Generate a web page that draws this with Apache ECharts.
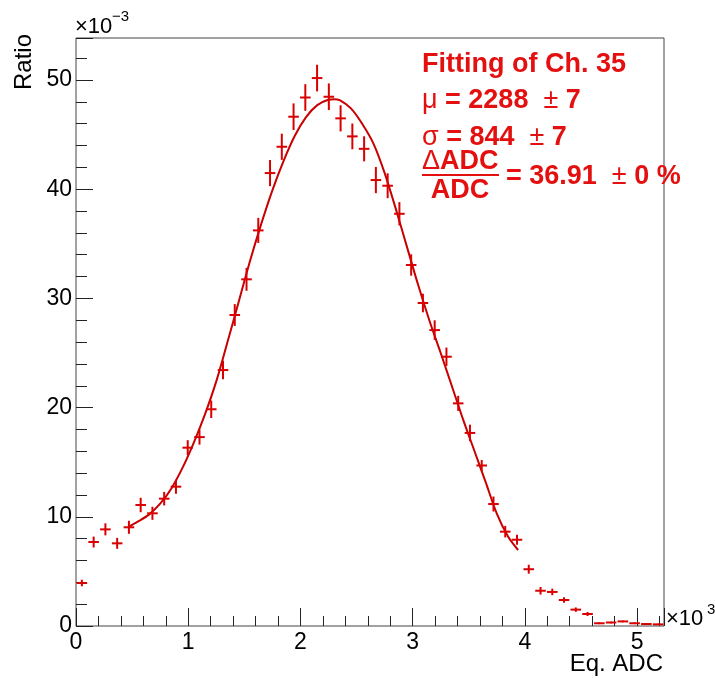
<!DOCTYPE html>
<html><head><meta charset="utf-8">
<script src="https://cdn.jsdelivr.net/npm/echarts@6/dist/echarts.min.js"></script>
<style>html,body{margin:0;padding:0;background:#fff}#c{width:715px;height:678px}</style>
</head><body><div id="c"></div>
<script>
// Histogram definition (Eq. ADC)
const binLow = 0, binHigh = 5240, nBins = 50;
// Ratio per bin (x 1e-3)
const ratio = [3.94, 7.69, 8.85, 7.57, 9.04, 11.08, 10.32, 11.66, 12.76, 16.33,
  17.30, 19.85, 23.44, 28.48, 31.75, 36.23, 41.48, 43.89, 46.64, 48.40,
  50.18, 48.47, 46.49, 44.84, 43.70, 40.84, 40.32, 37.75, 33.06, 29.58,
  27.10, 24.66, 20.39, 17.68, 14.70, 11.17, 8.64, 7.90, 5.20, 3.23,
  3.12, 2.38, 1.50, 1.10, 0.25, 0.32, 0.42, 0.25, 0.18, 0.15];
// Statistical error per bin (x 1e-3)
const ratioErr = [0.30, 0.50, 0.55, 0.50, 0.60, 0.66, 0.60, 0.62, 0.65, 0.69,
  0.69, 0.80, 0.85, 1.00, 1.05, 1.15, 1.20, 1.20, 1.22, 1.22,
  1.22, 1.22, 1.20, 1.18, 1.15, 1.20, 1.14, 1.07, 0.98, 0.85,
  0.90, 0.84, 0.69, 0.76, 0.50, 0.69, 0.53, 0.46, 0.41, 0.35,
  0.30, 0.25, 0.20, 0.18, 0.08, 0.08, 0.08, 0.08, 0.06, 0.06];
// Fit curve
const fitX = [470, 550, 650, 750, 850, 950, 1050, 1150, 1250, 1350, 1450, 1550, 1650, 1750, 1850,
  1950, 2050, 2150, 2250, 2300, 2350, 2450, 2550, 2650, 2750, 2850, 2950, 3050, 3150, 3250,
  3350, 3450, 3550, 3650, 3750, 3850, 3940];
const fitY = [9.09, 9.55, 10.2, 11.2, 12.6, 14.5, 16.8, 19.4, 22.4, 26.0, 29.7, 33.4, 36.8, 39.9, 42.6,
  44.9, 46.6, 47.7, 48.2, 48.25, 48.15, 47.4, 46.0, 44.2, 41.5, 38.2, 34.7, 31.2, 27.96, 25.0,
  21.96, 18.9, 16.05, 13.2, 10.3, 8.2, 6.96];
// Tick labels
const xTickValues = [0, 1000, 2000, 3000, 4000, 5000];
const xTickLabels = ['0', '1', '2', '3', '4', '5'];
const yTickValues = [0, 10, 20, 30, 40, 50];
const yTickLabels = ['0', '10', '20', '30', '40', '50'];
const yMax = 53.85;

const binW = (binHigh - binLow) / nBins;
const centers = ratio.map((_, i) => binLow + (i + 0.5) * binW);
const RED = '#d80000';
const TXT = '#e41010';
const FONT = 'Liberation Sans';

function labelFor(values, labels) {
  return function (v) {
    for (let i = 0; i < values.length; i++) if (Math.abs(values[i] - v) < 1e-6) return labels[i];
    return '';
  };
}

const chart = echarts.init(document.getElementById('c'), null, {renderer: 'canvas'});
const axisLabelStyle = {color: '#000', fontFamily: FONT, fontSize: 23};
const richR = {fill: TXT, fontFamily: FONT, fontSize: 27, fontWeight: 'normal'};
const richB = {fill: TXT, fontFamily: FONT, fontSize: 27, fontWeight: 'bold'};
chart.setOption({
  animation: false,
  backgroundColor: '#fff',
  grid: {left: 76, top: 38, right: 51, bottom: 52, show: true, borderColor: '#444', borderWidth: 1, containLabel: false},
  xAxis: [
    {type: 'value', min: binLow, max: binHigh, interval: 1000, position: 'bottom',
     axisLine: {show: false, onZero: false}, splitLine: {show: false},
     axisTick: {show: true, inside: true, length: 18, lineStyle: {color: '#222', width: 1}},
     axisLabel: Object.assign({margin: 5, formatter: labelFor(xTickValues, xTickLabels), showMaxLabel: true, showMinLabel: true}, axisLabelStyle)},
    {type: 'value', min: binLow, max: binHigh, interval: 200, position: 'bottom',
     axisLine: {show: false, onZero: false}, splitLine: {show: false},
     axisTick: {show: true, inside: true, length: 10, lineStyle: {color: '#222', width: 1}},
     axisLabel: {show: false}}
  ],
  yAxis: [
    {type: 'value', min: 0, max: yMax, interval: 10, position: 'left',
     axisLine: {show: false, onZero: false}, splitLine: {show: false},
     axisTick: {show: true, inside: true, length: 17, lineStyle: {color: '#222', width: 1}},
     axisLabel: Object.assign({margin: 4, formatter: labelFor(yTickValues, yTickLabels), showMaxLabel: true}, axisLabelStyle)},
    {type: 'value', min: 0, max: yMax, interval: 2, position: 'left',
     axisLine: {show: false, onZero: false}, splitLine: {show: false},
     axisTick: {show: true, inside: true, length: 11, lineStyle: {color: '#222', width: 1}},
     axisLabel: {show: false}}
  ],
  series: [
    {type: 'line', xAxisIndex: 0, yAxisIndex: 0, smooth: 0.3, showSymbol: false, symbol: 'none',
     data: fitX.map((x, i) => [x, fitY[i]]),
     lineStyle: {color: '#c80000', width: 2}, z: 3},
    {type: 'custom', xAxisIndex: 0, yAxisIndex: 0, z: 4,
     data: ratio.map((v, i) => [centers[i], v, ratioErr[i]]),
     renderItem: function (params, api) {
       const x = api.value(0), y = api.value(1), e = api.value(2);
       const hw = binW * 0.45;
       const pL = api.coord([x - hw, y]), pR = api.coord([x + hw, y]);
       const pT = api.coord([x, y + e]), pB = api.coord([x, Math.max(0, y - e)]);
       return {type: 'group', children: [
         {type: 'line', shape: {x1: pL[0], y1: pL[1], x2: pR[0], y2: pR[1]}, style: {stroke: RED, lineWidth: 2}},
         {type: 'line', shape: {x1: pT[0], y1: pT[1], x2: pB[0], y2: pB[1]}, style: {stroke: RED, lineWidth: 2}}
       ]};
     }}
  ],
  graphic: [
    {type: 'text', x: 24, y: 62, rotation: Math.PI / 2,
     style: {text: 'Ratio', fill: '#000', font: '24px "Liberation Sans"', align: 'center', verticalAlign: 'middle'}},
    {type: 'text', x: 663, y: 664,
     style: {text: 'Eq. ADC', fill: '#000', font: '24px "Liberation Sans"', align: 'right', verticalAlign: 'middle'}},
    {type: 'text', x: 75, y: 27,
     style: {text: '×10', fill: '#000', font: '22px "Liberation Sans"', align: 'left', verticalAlign: 'middle'}},
    {type: 'text', x: 112, y: 17,
     style: {text: '−3', fill: '#000', font: '15px "Liberation Sans"', align: 'left', verticalAlign: 'middle'}},
    {type: 'text', x: 666, y: 619,
     style: {text: '×10', fill: '#000', font: '22px "Liberation Sans"', align: 'left', verticalAlign: 'middle'}},
    {type: 'text', x: 707, y: 610,
     style: {text: '3', fill: '#000', font: '15px "Liberation Sans"', align: 'left', verticalAlign: 'middle'}},
    {type: 'text', x: 422, y: 65,
     style: {text: 'Fitting of Ch. 35', fill: TXT, font: 'bold 27px "Liberation Sans"', align: 'left', verticalAlign: 'middle'}},
    {type: 'text', x: 422, y: 101,
     style: {text: '{r|μ}{b| = 2288 }{r| ±}{b| 7}', align: 'left', verticalAlign: 'middle', rich: {r: richR, b: richB}}},
    {type: 'text', x: 422, y: 138,
     style: {text: '{r|σ}{b| = 844 }{r| ±}{b| 7}', align: 'left', verticalAlign: 'middle', rich: {r: richR, b: richB}}},
    {type: 'text', x: 422, y: 162,
     style: {text: '{r|Δ}{b|ADC}', align: 'left', verticalAlign: 'middle', rich: {r: richR, b: richB}}},
    {type: 'line', shape: {x1: 422, y1: 175, x2: 499, y2: 175}, style: {stroke: TXT, lineWidth: 2}},
    {type: 'text', x: 460, y: 191,
     style: {text: 'ADC', fill: TXT, font: 'bold 27px "Liberation Sans"', align: 'center', verticalAlign: 'middle'}},
    {type: 'text', x: 506, y: 177,
     style: {text: '{b|= 36.91 }{r| ±}{b| 0 %}', align: 'left', verticalAlign: 'middle', rich: {r: richR, b: richB}}}
  ]
});
</script></body></html>
